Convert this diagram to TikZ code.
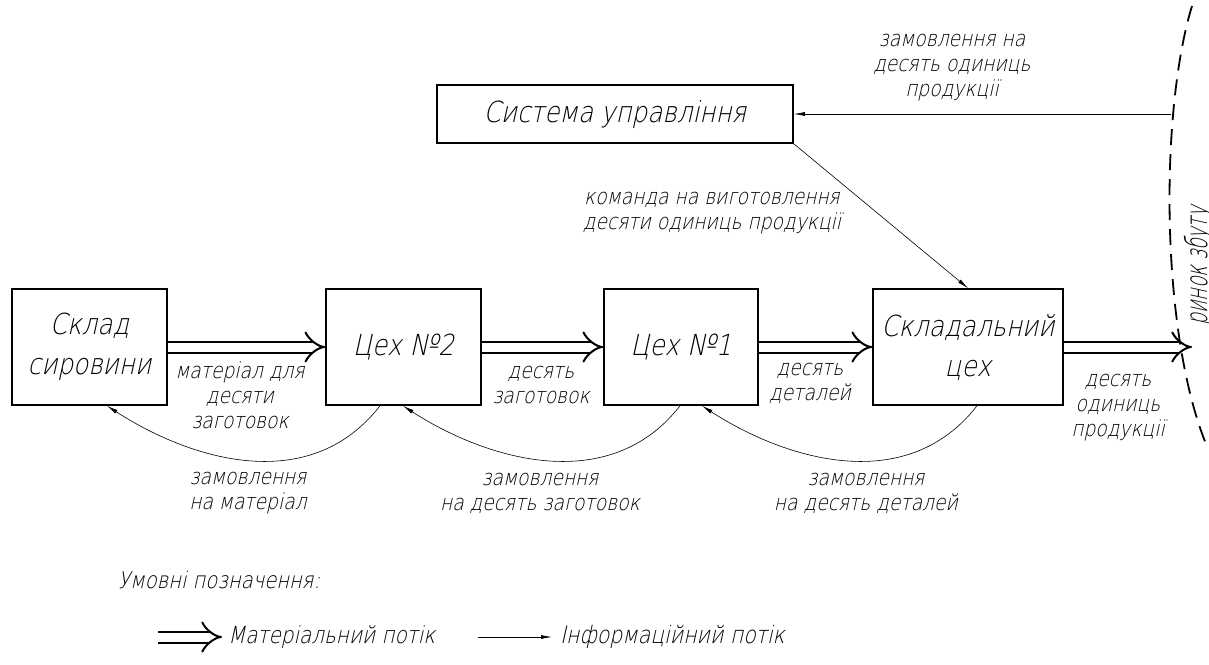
\documentclass[tikz,border=0pt]{standalone}
\usepackage{fontspec}
\setmainfont{DejaVu Sans ExtraLight}[FakeSlant=0.22, FakeStretch=0.85]
\newfontfamily\narrowfont{DejaVu Sans ExtraLight}[FakeSlant=0.22, FakeStretch=0.62]
\usetikzlibrary{arrows.meta,calc}

\newcommand{\boxfont}{\fontsize{29}{40}\selectfont}
\newcommand{\lblfont}{\fontsize{22}{25}\selectfont}

\tikzset{
  unit/.style={draw, line width=1.6pt, align=center, font=\boxfont, inner sep=0pt},
  lbl/.style={align=center, font=\lblfont, inner sep=0pt},
  matflow/.style={double, double distance=9pt, line width=2pt, -{Implies}},
  infoflow/.style={line width=0.6pt, -{Latex[length=11pt,width=4pt]}},
  order/.style={line width=0.6pt, -{Latex[length=11pt,width=4pt]}},
  border/.style={line width=1.8pt, dash pattern=on 16pt off 9pt},
}

\begin{document}
\begin{tikzpicture}[x=1pt, y=-1pt]
\useasboundingbox (0,0) rectangle (1209,664);
\clip (0,0) rectangle (1209,664);

% production units
\node[unit, minimum width=155pt, minimum height=116pt] (raw)   at (89.5,347) {Склад\\сировини};
\node[unit, minimum width=155pt, minimum height=116pt] (shop2) at (403.5,347) {Цех №2};
\node[unit, minimum width=154pt, minimum height=116pt] (shop1) at (681,347) {Цех №1};
\node[unit, minimum width=190pt, minimum height=116pt] (asm)   at (968,347) {Складальний\\цех};
\node[unit, minimum width=356pt, minimum height=58pt]  (ctrl)  at (615,114) {Система управління};

% market boundary points
\coordinate (out)  at (1192,347);
\coordinate (mkt)  at (1171,114);

% material flow
\draw[matflow] (raw.east) -- (shop2.west);
\draw[matflow] (shop2.east) -- (shop1.west);
\draw[matflow] (shop1.east) -- (asm.west);
\draw[matflow] (asm.east) -- (out);

\node[lbl] (l1) at (240,395) {матеріал для\\десяти\\заготовок};
\node[lbl] (l2) at (541,385) {десять\\заготовок};
\node[lbl] (l3) at (810,383) {десять\\деталей};
\node[lbl] (l4) at (1118,408) {десять\\одиниць\\продукції};

% orders going upstream
\draw[order] ([xshift=-23.5pt]shop2.south) .. controls +(-70,90) and +(85,55) .. ([xshift=17.5pt]raw.south);
\draw[order] ([xshift=-1pt]shop1.south) .. controls +(-70,90) and +(85,55) .. ([xshift=-0.5pt]shop2.south);
\draw[order] ([xshift=9pt]asm.south) .. controls +(-70,90) and +(85,55) .. ([xshift=21pt]shop1.south);

\node[lbl] (o1) at (248,493) {замовлення\\на матеріал};
\node[lbl] (o2) at (540,493) {замовлення\\на десять заготовок};
\node[lbl] (o3) at (866,493) {замовлення\\на десять деталей};

% information flow
\draw[infoflow] (mkt) -- (ctrl.east);
\draw[infoflow] (ctrl.south east) -- (asm.north);
\node[lbl] (top) at (952,68) {замовлення на\\десять одиниць\\продукції};
\node[lbl] (cmd) at (712,213) {команда на виготовлення\\десяти одиниць продукції};

% market boundary
\draw[border] (1192,6) .. controls (1160,110) and (1160,330) .. (1206,444);
\node[font=\narrowfont\fontsize{30}{36}\selectfont, rotate=90, inner sep=0pt, anchor=base] (market) at (1207,266) {ринок збуту};

% legend
\node[lbl, anchor=west, font=\fontsize{23}{25}\selectfont] (legend) at (118,580) {Умовні позначення:};
\coordinate (m0) at (158,637);
\coordinate (m1) at (222,637);
\draw[matflow] (m0) -- (m1);
\node[lbl, anchor=west, font=\fontsize{23.5}{25}\selectfont] (mtext) at (228,637) {Матеріальний потік};
\coordinate (i0) at (478,637);
\coordinate (i1) at (552,637);
\draw[infoflow] (i0) -- (i1);
\node[lbl, anchor=west, font=\fontsize{24}{25}\selectfont] (itext) at (560,637) {Інформаційний потік};
\end{tikzpicture}
\end{document}
